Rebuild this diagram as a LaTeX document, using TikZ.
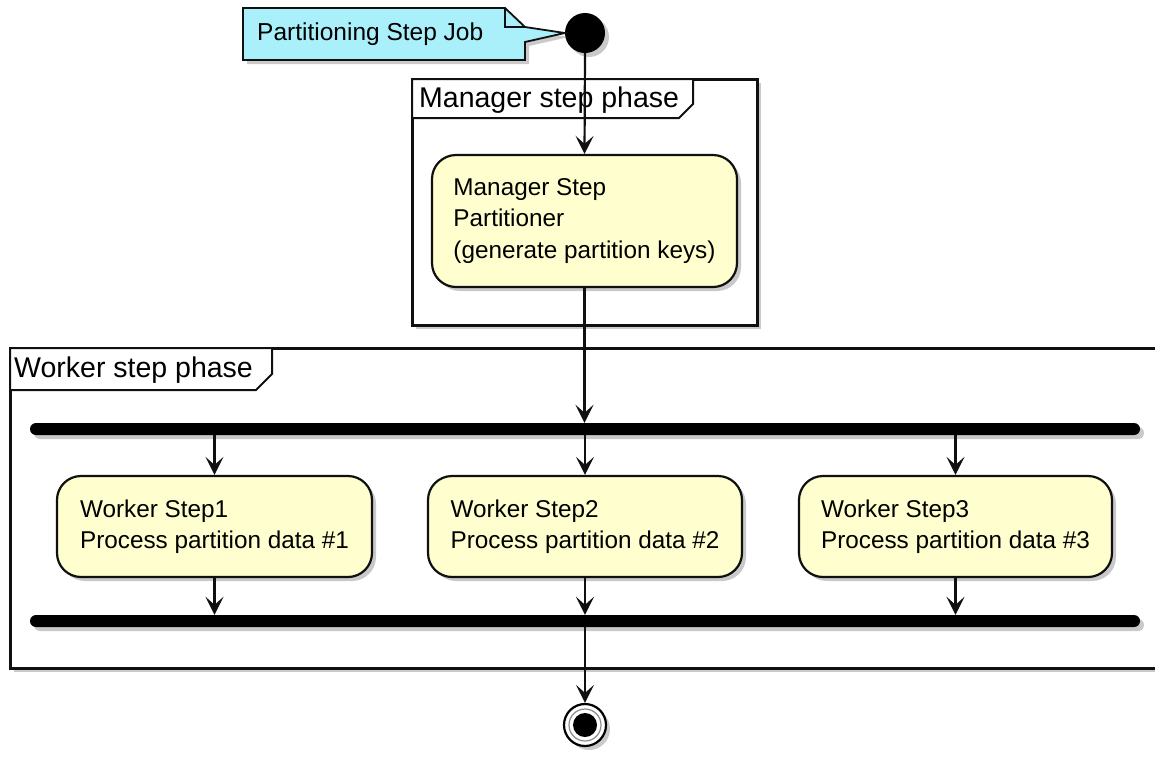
\documentclass[tikz,border=0pt]{standalone}
\usepackage{fontspec}
\setmainfont{Liberation Sans}
\usetikzlibrary{arrows.meta,shadows}
\definecolor{notefill}{RGB}{170,240,250}
\definecolor{actfill}{RGB}{254,254,206}
\definecolor{edge}{RGB}{16,16,16}
\tikzset{
 shad/.style={drop shadow={shadow xshift=4pt,shadow yshift=-4pt,opacity=0.35,fill=black!60}},
 act/.style={draw=edge,line width=2.2pt,fill=actfill,rounded corners=24pt,shad,align=left,font=\fontsize{24.3}{31.5}\selectfont},
 flow/.style={draw=edge,line width=2.2pt,-{Stealth[length=18pt,width=18pt,inset=8pt]}},
 bar/.style={fill=black,rounded corners=6pt,minimum width=1110pt,minimum height=12pt,inner sep=0pt,shad},
 frame/.style={draw=edge,line width=3pt,fill=white,shad},
 tab/.style={draw=edge,line width=2pt,fill=white},
 title/.style={font=\fontsize{28.5}{32}\selectfont,anchor=west,inner sep=0pt},
 notebox/.style={draw=edge,line width=1.8pt,fill=notefill,shad}
}
\begin{document}
\begin{tikzpicture}[x=1pt,y=-1pt]
\useasboundingbox (0,0) rectangle (1155,756);
% frames
\draw[frame] (412,79) rectangle (757,325);
\draw[tab] (412,79) -- (693,79) -- (693,104) -- (679,118) -- (412,118) -- cycle;
\node[title] (mtitle) at (419,100) {Manager step phase};
\draw[frame] (10,348) rectangle (1175,668);
\draw[tab] (10,348) -- (272,348) -- (272,374) -- (256,390) -- (10,390) -- cycle;
\node[title] (wtitle) at (14,370) {Worker step phase};
% start and note
\node[circle,fill=black,minimum size=40pt,inner sep=0pt,shad] (start) at (585,33) {};
\draw[notebox] (243,8) -- (505,8) -- (525,27) -- (start.west) -- (525,42) -- (525,60) -- (243,60) -- cycle;
\draw[edge,line width=1.8pt] (505,8) -- (505,27) -- (525,27);
\node[font=\fontsize{24.5}{28}\selectfont,anchor=west,inner sep=0pt] (note) at (257,34) {Partitioning Step Job};
% activities
\node[act,minimum width=305pt,minimum height=132pt] (mgr) at (584.5,221) {Manager Step\\Partitioner\\(generate partition keys)};
\node[bar] (fork) at (585,429) {};
\node[act,minimum width=315pt,minimum height=101pt] (w1) at (214.5,526.5) {Worker Step1\\Process partition data \#1};
\node[act,minimum width=314pt,minimum height=101pt] (w2) at (585,526.5) {Worker Step2\\Process partition data \#2};
\node[act,minimum width=313pt,minimum height=101pt] (w3) at (955.5,526.5) {Worker Step3\\Process partition data \#3};
\node[bar] (join) at (585,621) {};
\node[circle,draw=black,line width=2.2pt,fill=white,minimum size=42pt,inner sep=0pt,shad] (end) at (585,725) {};
\node[circle,draw=black!45,line width=1.2pt,minimum size=32pt,inner sep=0pt] (endring) at (end.center) {};
\node[circle,fill=black,minimum size=24pt,inner sep=0pt] (endin) at (end.center) {};
% connectors
\draw[flow] (start.south) -- (mgr.north);
\draw[flow] (mgr.south) -- (mgr.south |- fork.north);
\foreach \w in {w1,w2,w3}{
  \draw[flow] (fork.south -| \w.north) -- (\w.north);
  \draw[flow] (\w.south) -- (\w.south |- join.north);
}
\draw[flow] (join.south) -- (end.north);
\end{tikzpicture}
\end{document}
